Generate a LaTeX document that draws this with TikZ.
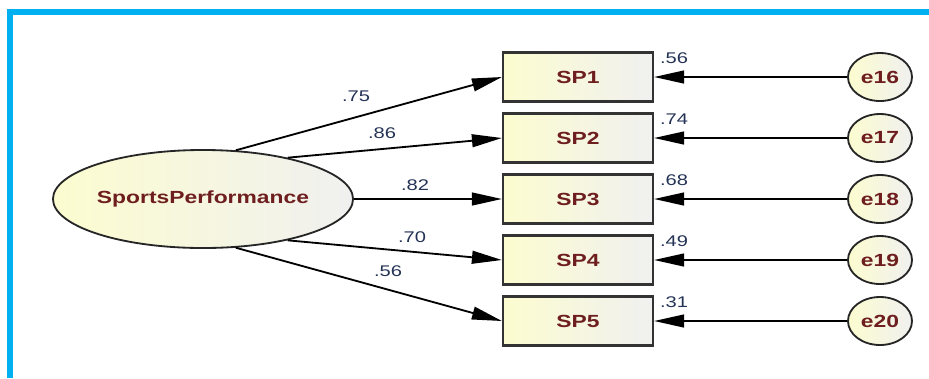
\documentclass[tikz,border=0pt]{standalone}
\usepackage{graphicx}
\usepackage{fontspec}
\setmainfont{Liberation Sans}
\usetikzlibrary{arrows.meta,shapes.geometric}

\definecolor{framecyan}{RGB}{0,176,240}
\definecolor{textmaroon}{RGB}{110,30,30}
\definecolor{coefblue}{RGB}{35,50,85}
\definecolor{paleyellow}{RGB}{252,252,208}
\definecolor{palegray}{RGB}{240,240,240}

\newcommand{\stretchtext}[1]{\scalebox{1.3}[1]{#1}}

\begin{document}
\begin{tikzpicture}[x=0.025cm,y=-0.025cm,
    latent/.style={ellipse,draw=black!85,line width=1.3pt,inner sep=0pt,
      left color=paleyellow,right color=palegray,text=textmaroon,
      font=\fontsize{12.5}{15}\selectfont\bfseries},
    observed/.style={rectangle,draw=black!80,line width=1.5pt,inner sep=0pt,
      minimum width=3.75cm,minimum height=1.225cm,
      left color=paleyellow,right color=palegray,text=textmaroon,
      font=\fontsize{12.5}{15}\selectfont\bfseries},
    errvar/.style={latent,minimum width=1.6cm,minimum height=1.2cm},
    coef/.style={text=coefblue,inner sep=0pt,font=\fontsize{11}{13}\selectfont},
    path/.style={line width=1.3pt,-{Triangle[length=0.75cm,width=0.32cm]}}]
  \useasboundingbox (0,0) rectangle (929,378);

  % frame
  \fill[framecyan] (7,9) rectangle (929,15);
  \fill[framecyan] (7,9) rectangle (13,378);

  \node[latent,minimum width=7.5cm,minimum height=2.45cm] (perf) at (203,199)
    {\stretchtext{SportsPerformance}};

  \node[observed] (sp1) at (578,77)  {\stretchtext{SP1}};
  \node[observed] (sp2) at (578,138) {\stretchtext{SP2}};
  \node[observed] (sp3) at (578,199) {\stretchtext{SP3}};
  \node[observed] (sp4) at (578,260) {\stretchtext{SP4}};
  \node[observed] (sp5) at (578,321) {\stretchtext{SP5}};

  \node[errvar] (e16) at (880,77)  {\stretchtext{e16}};
  \node[errvar] (e17) at (880,138) {\stretchtext{e17}};
  \node[errvar] (e18) at (880,199) {\stretchtext{e18}};
  \node[errvar] (e19) at (880,260) {\stretchtext{e19}};
  \node[errvar] (e20) at (880,321) {\stretchtext{e20}};

  % loadings
  \draw[path] (perf.56)  -- (sp1.west);
  \draw[path] (perf.26)  -- (sp2.west);
  \draw[path] (perf.east) -- (sp3.west);
  \draw[path] (perf.-26) -- (sp4.west);
  \draw[path] (perf.-56) -- (sp5.west);

  % error terms
  \draw[path] (e16.west) -- (sp1.east);
  \draw[path] (e17.west) -- (sp2.east);
  \draw[path] (e18.west) -- (sp3.east);
  \draw[path] (e19.west) -- (sp4.east);
  \draw[path] (e20.west) -- (sp5.east);

  \node[coef] (l1) at (356,96)  {\stretchtext{.75}};
  \node[coef] (l2) at (382,133) {\stretchtext{.86}};
  \node[coef] (l3) at (415,185) {\stretchtext{.82}};
  \node[coef] (l4) at (412,237) {\stretchtext{.70}};
  \node[coef] (l5) at (388,271) {\stretchtext{.56}};

  \node[coef] (r1) at (674,58)  {\stretchtext{.56}};
  \node[coef] (r2) at (674,119) {\stretchtext{.74}};
  \node[coef] (r3) at (674,180) {\stretchtext{.68}};
  \node[coef] (r4) at (674,241) {\stretchtext{.49}};
  \node[coef] (r5) at (674,302) {\stretchtext{.31}};
\end{tikzpicture}
\end{document}
